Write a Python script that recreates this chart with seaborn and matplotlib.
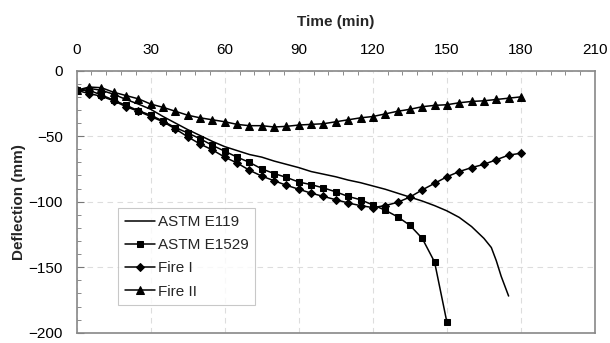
import numpy as np
import pandas as pd
import seaborn as sns
import matplotlib
matplotlib.use('Agg')
import matplotlib.pyplot as plt
from matplotlib.ticker import MultipleLocator

# ASTM E119 (line only)
t_e119 = [0, 5, 10, 15, 20, 25, 30, 35, 40, 45, 50, 55, 60, 65, 70, 75, 80, 85, 90,
          95, 100, 105, 110, 115, 120, 125, 130, 135, 140, 145, 150, 155, 160, 165,
          168, 170, 172, 175]
d_e119 = [-15, -13.5, -15, -18, -22, -25.5, -29.5, -35, -40, -45, -49.5, -54, -58, -61,
          -64, -66, -69, -71.5, -74, -77, -79, -81, -83.5, -85.5, -88, -90.5, -93.5,
          -96.5, -99.5, -103, -107, -112, -119, -128, -135, -145, -157, -172]

# ASTM E1529 (squares)
t_e1529 = list(range(0, 155, 5))
d_e1529 = [-15, -15, -18.5, -22.5, -26.5, -30.5, -34, -38.5, -43.5, -47.5, -52, -57,
           -61.5, -66, -70, -75, -78.5, -81.5, -85, -87, -89.5, -92.5, -96, -98.5,
           -102.5, -106.5, -111.5, -118, -128, -146, -192]

# Fire I (diamonds)
t_fire1 = list(range(0, 185, 5))
d_fire1 = [-15, -17.5, -19.5, -23, -27.5, -31, -35, -39, -44.5, -50.5, -56, -60.5,
           -66, -70.5, -76, -80.5, -84, -87.5, -90.5, -93.5, -96, -98.5, -101, -103,
           -104.5, -103, -100.5, -96.5, -91, -86, -81, -77, -74, -71.5, -68, -64.5, -63]

# Fire II (triangles)
t_fire2 = list(range(0, 185, 5))
d_fire2 = [-15, -12.5, -13, -16.5, -19, -21.5, -25.5, -28, -31, -34, -36, -37.5, -39,
           -41, -42, -42, -43, -42.5, -41.5, -41, -40.5, -39, -37.5, -36, -35, -33,
           -31, -29.5, -27.5, -26.5, -26, -24.5, -23.5, -23, -22, -21, -20]

sns.set_style("white")
plt.rcParams['font.family'] = ['Liberation Sans', 'DejaVu Sans']

fig = plt.figure(figsize=(6.1, 3.43), dpi=100)
ax = fig.add_axes([0.1257, 0.03, 0.8497, 0.764])

sns.lineplot(x=t_e119, y=d_e119, ax=ax, color='black', lw=1.1, sort=False,
             label='ASTM E119')
sns.lineplot(x=t_e1529, y=d_e1529, ax=ax, color='black', lw=1.1, sort=False,
             marker='s', markersize=4.5, markeredgecolor='black', label='ASTM E1529')
sns.lineplot(x=t_fire1, y=d_fire1, ax=ax, color='black', lw=1.1, sort=False,
             marker='D', markersize=4, markeredgecolor='black', label='Fire I')
sns.lineplot(x=t_fire2, y=d_fire2, ax=ax, color='black', lw=1.1, sort=False,
             marker='^', markersize=5.5, markeredgecolor='black', label='Fire II')

ax.set_xlim(0, 210)
ax.set_ylim(-200, 0)
ax.xaxis.set_major_locator(MultipleLocator(30))
ax.xaxis.set_minor_locator(MultipleLocator(6))
ax.yaxis.set_major_locator(MultipleLocator(50))
ax.yaxis.set_minor_locator(MultipleLocator(10))
ax.xaxis.tick_top()
ax.xaxis.set_label_position('top')
ax.tick_params(axis='x', which='both', direction='in', top=True, bottom=False,
               labelsize=11, colors='#777777', labelcolor='black', pad=10)
ax.tick_params(axis='x', which='major', length=0)
ax.tick_params(axis='x', which='minor', length=3)
ax.tick_params(axis='y', which='both', direction='in', left=True,
               labelsize=11, colors='#777777', labelcolor='black', pad=10)
ax.tick_params(axis='y', which='major', length=5)
ax.tick_params(axis='y', which='minor', length=3)

ax.grid(True, which='major', color='#dddddd', linestyle=(0, (5, 4)), lw=0.8)
for s in ax.spines.values():
    s.set_color('#888888')
    s.set_linewidth(1.2)

ax.set_xlabel('Time (min)', fontsize=11, fontweight='bold', labelpad=12)
ax.set_ylabel('Deflection (mm)', fontsize=11, fontweight='bold', labelpad=2)

leg = ax.legend(loc='lower left', bbox_to_anchor=(0.065, 0.075), fontsize=11,
                frameon=True, fancybox=False, handlelength=2.0, handletextpad=0.15,
                borderpad=0.45, labelspacing=0.6)
leg.get_frame().set_edgecolor('#bbbbbb')
leg.get_frame().set_linewidth(0.8)

fig.savefig('out.png', dpi=100)
